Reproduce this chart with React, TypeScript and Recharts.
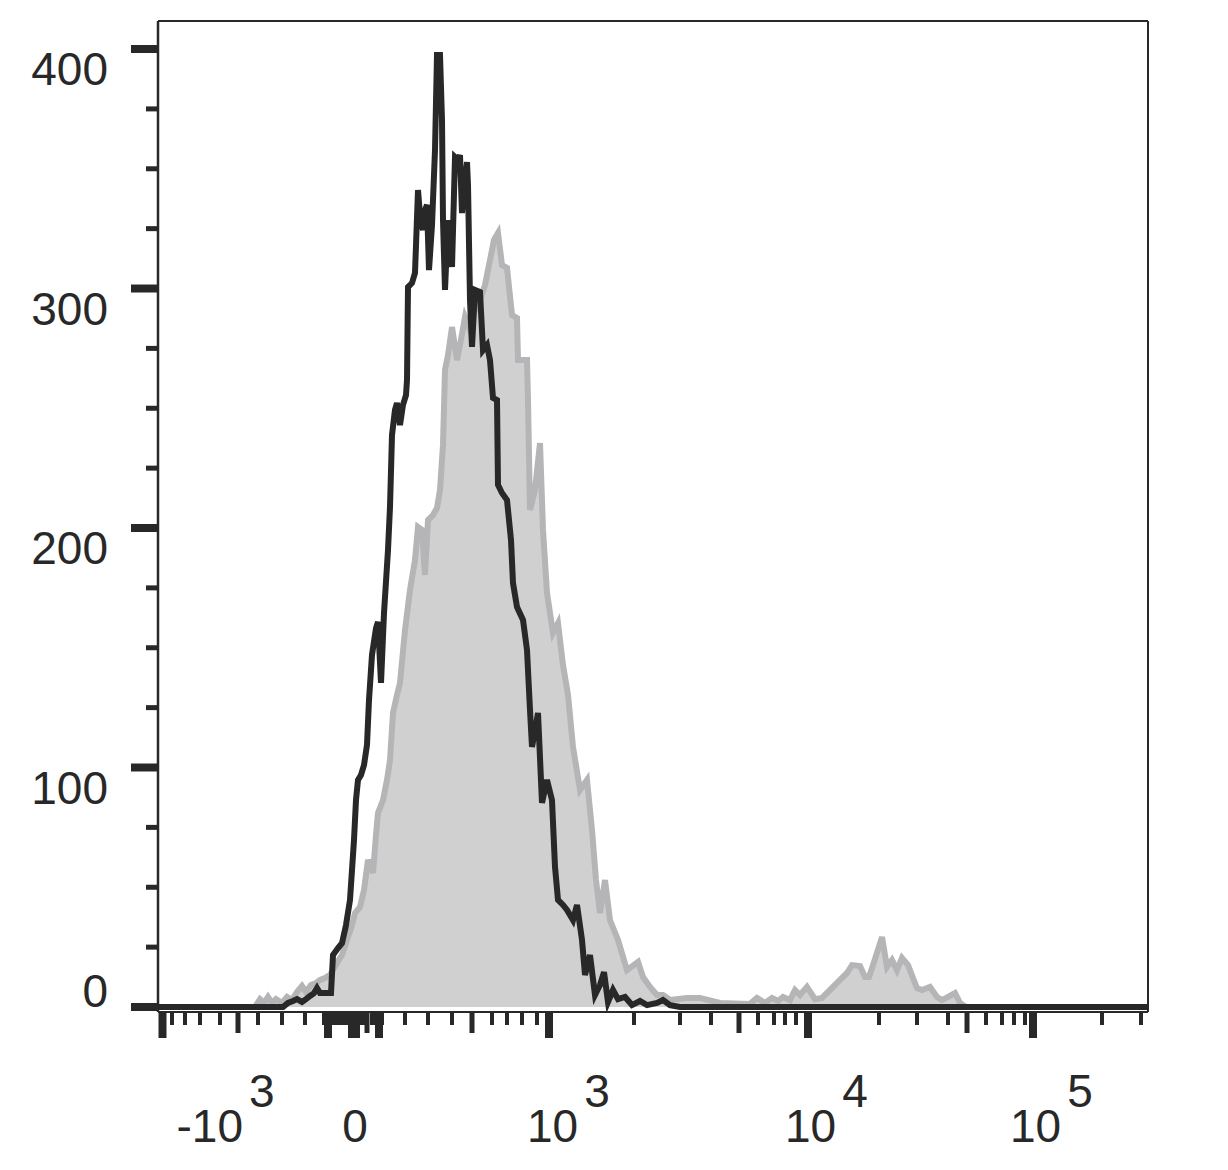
import { Area, ComposedChart, Line, ReferenceLine, XAxis, YAxis } from 'recharts'

const INK = '#282828'
const FILL_GRAY = '#d0d0d0'
const EDGE_GRAY = '#b5b5b7'
const FONT = '"Liberation Sans", Arial, Helvetica, sans-serif'

// channel = position along the biexponential axis (0..990)
const outlineChannels = [
  0, 125, 130, 135, 139, 144, 148, 152, 156, 159, 162, 173, 175, 180, 184, 188, 192, 194, 196, 198,
  200, 203, 206, 209, 211, 214, 218, 220, 223, 226, 230, 232, 234, 237, 239, 242, 245, 248, 249, 250,
  254, 257, 260, 262, 265, 267, 269, 271, 274, 277, 279, 282, 284, 285, 287, 290, 294, 297, 300, 302,
  304, 307, 309, 310, 312, 314, 317, 322, 325, 329, 332, 335, 339, 340, 344, 349, 353, 355, 359, 365,
  369, 372, 374, 378, 380, 384, 389, 394, 397, 400, 405, 409, 415, 419, 424, 427, 432, 437, 442, 446,
  450, 455, 460, 467, 474, 482, 489, 499, 505, 512, 522, 990,
]
const outlineCounts = [
  0, 0, 1.7, 2.5, 3.3, 2.1, 3.3, 4.6, 5.8, 7.9, 5.8, 5.8, 21.7, 24.6, 26.7, 34.2, 44.7, 57.2, 69.7, 86.4,
  94.8, 96.9, 101, 109.4, 128.2, 147, 158.2, 160.8, 135.3, 164.5, 190.8, 208.8, 238.8, 249.3, 252.2, 243, 251.4, 255.5, 261.8, 300.6,
  302.3, 306.5, 341.1, 330.7, 324.4, 332.8, 334.9, 307.7, 326.5, 357.8, 397.5, 397.5, 370.4, 328.6, 299.4, 328.6, 309, 354.9, 353.7, 355.7,
  331.5, 345.3, 352.8, 343.2, 295.2, 275.6, 299.4, 298.5, 274.3, 276.4, 270.1, 254.3, 253.4, 218, 214.6, 211.7, 195, 177, 167, 161.6,
  149.1, 124, 108.6, 117.7, 122.8, 85.2, 94.8, 86.4, 58.5, 44.7, 42.6, 40.5, 36.3, 42.6, 28, 13.4, 21.7, 5, 9.2, 14.6,
  2.1, 7.1, 3.3, 4.2, 0.8, 2.5, 0.8, 1.7, 2.9, 0.8, 0, 0,
]

const shadedChannels = [
  0, 97, 102, 106, 110, 114, 118, 124, 129, 134, 139, 144, 148, 153, 158, 162, 167, 172, 179, 184,
  189, 194, 197, 202, 206, 210, 215, 218, 220, 225, 229, 232, 235, 239, 242, 247, 252, 257, 260, 264,
  267, 270, 275, 279, 282, 285, 287, 290, 294, 299, 302, 307, 312, 317, 322, 327, 332, 336, 340, 344,
  349, 354, 359, 360, 369, 370, 372, 377, 382, 385, 389, 395, 400, 405, 410, 415, 422, 429, 434, 438,
  442, 447, 452, 460, 469, 480, 485, 492, 499, 505, 512, 529, 542, 562, 592, 599, 607, 614, 620, 625,
  632, 637, 642, 649, 657, 664, 672, 682, 689, 694, 702, 707, 711, 715, 724, 729, 734, 739, 744, 750,
  755, 759, 764, 772, 779, 784, 790, 797, 802, 808, 990,
]
const shadedCounts = [
  0, 0, 3.3, 1.7, 4.2, 1.7, 3.3, 1.7, 4.2, 2.9, 6.3, 8.8, 6.3, 9.2, 10, 11.3, 12.1, 13.4, 18.4, 21.7,
  28, 34.2, 39.2, 41.8, 48.9, 61.4, 56, 71.8, 81, 86.4, 94.8, 103.1, 122.8, 130.3, 135.3, 157.4, 174.1, 186.6, 200.4, 199.2,
  180.4, 203.3, 205.4, 208.4, 215.9, 234.7, 266, 272.2, 283.9, 270.1, 276.4, 288.1, 282.7, 291, 295.2, 301.5, 311.9, 320.3, 323.2, 309.8,
  308.6, 288.9, 287.7, 270.1, 270.1, 253.4, 207.5, 215.9, 235.5, 199.2, 172.9, 156.2, 160.3, 142.8, 130.3, 108.6, 90.6, 94.8, 73.9, 53,
  39.2, 53, 36.3, 28, 15.4, 18.8, 12.5, 8.4, 5, 5, 2.9, 3.8, 3.8, 1.7, 1.3, 3.8, 1.7, 3.8, 2.5, 4.2,
  2.9, 7.1, 5, 8.4, 3.3, 3.8, 7.1, 11.3, 14.2, 17.5, 17.1, 12.5, 12.5, 17.5, 29.2, 16.7, 19.6, 15.4, 20.5, 17.5,
  12.1, 7.9, 7.1, 8.4, 4.2, 2.9, 4.2, 5.8, 1.7, 0, 0,
]

const Y_MIN = -2.09
const Y_MAX = 411.7
const yTicks = [0, 25, 50, 75, 100, 125, 150, 175, 200, 225, 250, 275, 300, 325, 350, 375, 400]
const yLabelTicks = [0, 100, 200, 300, 400]

const xMajorTicks = [4.5, 170, 221, 391, 650, 875]
const xZeroTick = 196
const xMediumTicks = [80, 209, 314, 581, 809]
const xMinorTicks = [
  14, 27, 42, 62, 100, 124, 147,
  166, 174, 178, 182, 186, 190, 202, 206, 214, 218, 224,
  247, 270, 294, 334, 349, 364, 379,
  476, 522, 553, 600, 616, 627, 638,
  721, 759, 790, 828, 844, 856, 867,
  944, 983,
]
const xLabelTicks = [4.5, 196, 391, 650, 875]
const xLabelBase = ['-10', '0', '10', '10', '10']
const xLabelExp = ['3', '', '3', '4', '5']
const xLabelShift = [14, 1, -22, -23, -23]

const outlineData = outlineChannels.map((ch, i) => ({ ch, n: outlineCounts[i] }))
const shadedData = shadedChannels.map((ch, i) => ({ ch, n: shadedCounts[i] }))
const allXTicks = [...xMajorTicks, xZeroTick, ...xMediumTicks, ...xMinorTicks].sort((a, b) => a - b)

function XTick({ x, y, payload }: any) {
  const v = payload.value
  let len = 13
  let w = 4
  if (v === xZeroTick) {
    len = 26
    w = 12
  } else if (xMajorTicks.includes(v)) {
    len = 26
    w = 8
  } else if (xMediumTicks.includes(v)) {
    len = 21
    w = 5
  }
  const li = xLabelTicks.indexOf(v)
  return (
    <g>
      <line x1={x} x2={x} y1={y + 1} y2={y + len} stroke={INK} strokeWidth={w} />
      {li >= 0 && (
        <text
          x={x + xLabelShift[li]}
          y={y + 130}
          fontSize={46}
          fontFamily={FONT}
          fill={INK}
          textAnchor={xLabelExp[li] ? 'start' : 'middle'}
        >
          <tspan>{xLabelBase[li]}</tspan>
          {xLabelExp[li] && (
            <tspan dx={6} dy={-35}>
              {xLabelExp[li]}
            </tspan>
          )}
        </text>
      )}
    </g>
  )
}

function YTick({ x, y, payload }: any) {
  const v = payload.value
  const major = yLabelTicks.includes(v)
  return (
    <g>
      <line
        x1={x - (major ? 27 : 12)}
        x2={x}
        y1={y}
        y2={y}
        stroke={INK}
        strokeWidth={major ? 8 : 5}
      />
      {major && (
        <text
          x={x - 50}
          y={v === 0 ? y : y + 36}
          fontSize={46}
          fontFamily={FONT}
          fill={INK}
          textAnchor="end"
        >
          {v}
        </text>
      )}
    </g>
  )
}

export default function App() {
  return (
    <div style={{ width: 1220, height: 1150, background: '#fff' }}>
      <ComposedChart width={1220} height={1150} margin={{ top: 13, right: 80, bottom: 6, left: 0 }}>
        <XAxis
          type="number"
          dataKey="ch"
          domain={[0, 990]}
          allowDataOverflow
          ticks={allXTicks}
          interval={0}
          tick={<XTick />}
          tickLine={false}
          tickSize={0}
          tickMargin={0}
          height={140}
          axisLine={{ stroke: INK, strokeWidth: 2 }}
        />
        <YAxis
          type="number"
          domain={[Y_MIN, Y_MAX]}
          allowDataOverflow
          ticks={yTicks}
          interval={0}
          tick={<YTick />}
          tickLine={false}
          tickSize={0}
          tickMargin={0}
          width={150}
          axisLine={{ stroke: INK, strokeWidth: 2.5 }}
        />
        <ReferenceLine y={Y_MAX} stroke={INK} strokeWidth={2} />
        <ReferenceLine x={990} stroke={INK} strokeWidth={2} />
        <Area
          data={shadedData}
          dataKey="n"
          type="linear"
          baseValue={0}
          fill={FILL_GRAY}
          fillOpacity={1}
          stroke={EDGE_GRAY}
          strokeWidth={6}
          strokeLinejoin="miter"
          dot={false}
          activeDot={false}
          isAnimationActive={false}
        />
        <Line
          data={outlineData}
          dataKey="n"
          type="linear"
          stroke={INK}
          strokeWidth={6}
          strokeLinejoin="miter"
          dot={false}
          activeDot={false}
          isAnimationActive={false}
        />
      </ComposedChart>
    </div>
  )
}
